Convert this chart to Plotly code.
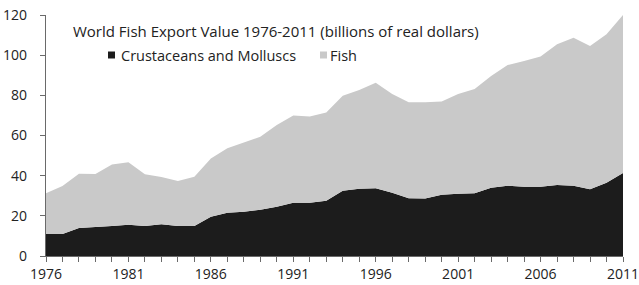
import plotly.graph_objects as go

years = list(range(1976, 2012))
crustaceans = [11.0, 11.0, 14.0, 14.5, 15.0, 15.5, 15.0, 15.8, 15.0, 15.0,
               19.5, 21.5, 22.0, 23.0, 24.5, 26.5, 26.5, 27.5, 32.5, 33.5,
               33.7, 31.5, 28.8, 28.6, 30.5, 31.0, 31.2, 34.0, 35.0, 34.5,
               34.5, 35.4, 35.0, 33.2, 36.5, 41.3]
total = [31.2, 34.9, 41.0, 40.8, 45.5, 46.7, 40.7, 39.3, 37.3, 39.5,
         48.6, 53.6, 56.5, 59.4, 65.2, 69.9, 69.4, 71.5, 79.8, 82.7,
         86.3, 80.7, 76.5, 76.5, 76.9, 80.7, 83.2, 89.6, 95.1, 97.1,
         99.3, 105.4, 108.7, 104.6, 110.4, 120.0]
fish = [round(t - c, 2) for t, c in zip(total, crustaceans)]
series_names = ["Crustaceans and Molluscs", "Fish"]
series_colors = ["#1c1c1c", "#c9c9c9"]
x_tick_labels = [1976, 1981, 1986, 1991, 1996, 2001, 2006, 2011]
y_ticks = [0, 20, 40, 60, 80, 100, 120]
title_text = "World Fish Export Value 1976-2011 (billions of real dollars)"

FONT = "Open Sans"
W, H = 639, 285
L, R, T, B = 46, 16, 15, 29
PW, PH = W - L - R, H - T - B

def px(x):
    return (x - L) / PW

def py(y):
    return (H - B - y) / PH

fig = go.Figure()
for vals, name, col in zip([crustaceans, fish], series_names, series_colors):
    fig.add_trace(go.Scatter(x=years, y=vals, name=name, stackgroup="one",
                             mode="none", fillcolor=col, showlegend=False,
                             hoverinfo="skip"))

annotations = [dict(text=title_text, xref="paper", yref="paper",
                    x=px(70.5), y=py(30.5), xanchor="left", yanchor="middle",
                    showarrow=False, font=dict(size=15, color="#222", family=FONT))]
shapes = []
legend_sq_x = [108, 320]
legend_txt_x = [118.5, 328]
for name, col, sx, tx in zip(series_names, series_colors, legend_sq_x, legend_txt_x):
    shapes.append(dict(type="rect", xref="paper", yref="paper",
                       x0=px(sx), x1=px(sx + 7), y0=py(58.5), y1=py(51.5),
                       fillcolor=col, line=dict(width=0)))
    annotations.append(dict(text=name, xref="paper", yref="paper",
                            x=px(tx), y=py(55.5), xanchor="left", yanchor="middle",
                            showarrow=False, font=dict(size=14.5, color="#222", family=FONT)))

fig.update_layout(
    template="none",
    width=W, height=H,
    margin=dict(l=L, r=R, t=T, b=B, autoexpand=False),
    paper_bgcolor="white", plot_bgcolor="white",
    font=dict(family=FONT, size=14, color="#222"),
    showlegend=False,
    annotations=annotations,
    shapes=shapes,
    xaxis=dict(range=[1976, 2011], tickvals=x_tick_labels, showgrid=False,
               automargin=False, ticklabeloverflow="allow",
               showline=True, linecolor="#6a6a6a", linewidth=1.3,
               ticks="outside", ticklen=5, tickcolor="#6a6a6a",
               minor=dict(dtick=1, tick0=1976, ticks="outside", ticklen=5,
                          tickcolor="#6a6a6a", showgrid=False),
               tickfont=dict(size=14, color="#222"), zeroline=False),
    yaxis=dict(range=[0, 120], tickvals=y_ticks, showgrid=False,
               automargin=False, ticklabelstandoff=10,
               showline=True, linecolor="#6a6a6a", linewidth=1.3,
               ticks="outside", ticklen=5, tickcolor="#6a6a6a",
               tickfont=dict(size=14, color="#222"), zeroline=False),
)

fig.write_html("out.html", config={"displayModeBar": False},
               post_script="document.body.style.margin='0';document.body.style.padding='0';")
